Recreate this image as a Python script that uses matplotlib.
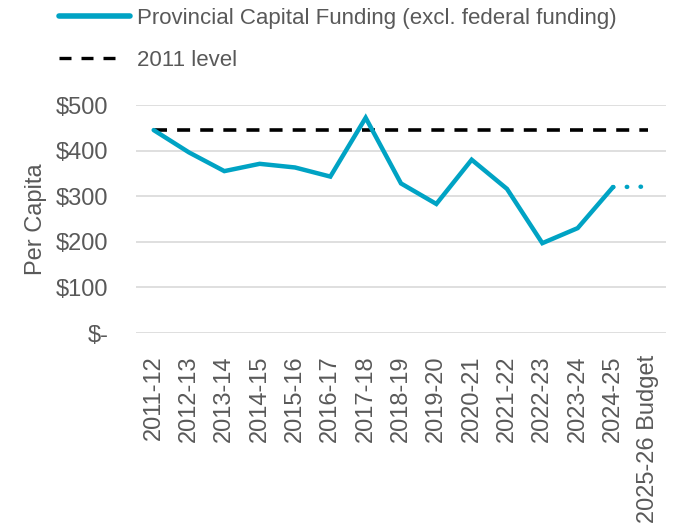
import matplotlib
matplotlib.use("Agg")
import matplotlib.pyplot as plt
from matplotlib.lines import Line2D

years = ["2011-12", "2012-13", "2013-14", "2014-15", "2015-16", "2016-17",
         "2017-18", "2018-19", "2019-20", "2020-21", "2021-22", "2022-23",
         "2023-24", "2024-25", "2025-26 Budget"]
funding = [445, 396, 355, 371, 363, 343, 472, 328, 283, 380, 316, 197, 230, 320]
budget = 321
level_2011 = 445
yticks = [0, 100, 200, 300, 400, 500]
ytick_labels = ["$-", "$100", "$200", "$300", "$400", "$500"]

teal = "#00A3C4"
grey = "#595959"

plt.rcParams['font.family'] = ['Liberation Sans', 'DejaVu Sans']

fig = plt.figure(figsize=(6.73, 5.24), dpi=100)
ax = fig.add_axes([136 / 673, 1 - 333 / 524, (666 - 136) / 673, (333 - 105) / 524])

x = list(range(len(years)))
ax.plot(x[:len(funding)], funding, color=teal, lw=3.2, solid_capstyle='round',
        solid_joinstyle='miter', zorder=3)
ax.plot([x[len(funding) - 1], x[-1]], [funding[-1], budget], color=teal, lw=3.2,
        linestyle=(0, (0.1, 3)), dash_capstyle='round', zorder=3)
ax.plot([x[0], x[-1]], [level_2011, level_2011], color="black", lw=2.6,
        linestyle=(0, (3.6, 2.8)), zorder=2)

ax.set_xlim(-0.5, len(years) - 0.5)
ax.set_ylim(0, 500)
ax.set_yticks(yticks)
ax.set_yticklabels(ytick_labels)
ax.set_xticks(x)
ax.set_xticklabels(years, rotation=90)
ax.grid(axis='y', color="#d9d9d9", lw=1.2)
ax.set_axisbelow(True)
for s in ax.spines.values():
    s.set_visible(False)
ax.tick_params(length=0, colors=grey, labelsize=17, pad=16)
ax.tick_params(axis='y', pad=20)
ax.set_ylabel("Per Capita", color=grey, fontsize=17, labelpad=6)

# legend handles: excel draws the dashed sample shorter than the solid one
handles = [Line2D([], [], color=teal, lw=4, solid_capstyle='round'),
           Line2D([], [], color="black", lw=2.4,
                  linestyle=(0, (3.6, 3.0, 3.6, 3.0, 3.6, 20)))]
fig.legend(handles, ["Provincial Capital Funding (excl. federal funding)", "2011 level"],
           loc='upper left', bbox_to_anchor=(39 / 673, 1 + 12 / 524), frameon=False,
           fontsize=16, labelcolor=grey, handlelength=3.2, handletextpad=0.3,
           labelspacing=0.95)

fig.savefig("out.png", dpi=100)
